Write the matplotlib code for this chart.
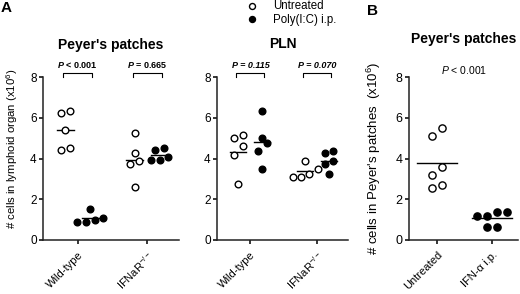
# Dot plots of cell counts in lymphoid organs (panels A and B)
import numpy as np
import matplotlib
matplotlib.use("Agg")
from matplotlib import pyplot as plt
from matplotlib.lines import Line2D

plt.rcParams['font.family'] = ['Liberation Sans', 'DejaVu Sans']
plt.rcParams['mathtext.fontset'] = 'custom'
plt.rcParams['mathtext.rm'] = 'Liberation Sans'
plt.rcParams['mathtext.it'] = 'Liberation Sans:italic'
plt.rcParams['mathtext.bf'] = 'Liberation Sans:bold'
plt.rcParams['mathtext.bfit'] = 'Liberation Sans:italic:bold'

# data
genotypes = ['Wild-type', 'IFNaR$^{-/-}$']
pp_untreated = [[6.25, 6.35, 5.4, 4.4, 4.5], [5.25, 4.25, 3.9, 3.75, 2.6]]
pp_polyic = [[1.0, 0.88, 1.5, 1.1, 0.88], [4.5, 4.4, 4.05, 3.95, 3.95]]
pp_pvals = ['< 0.001', '= 0.665']
pln_untreated = [[5.15, 5.0, 4.6, 4.15, 2.75], [3.9, 3.5, 3.25, 3.1, 3.1]]
pln_polyic = [[6.35, 5.0, 4.75, 4.35, 3.5], [4.25, 4.35, 3.9, 3.75, 3.25]]
pln_pvals = ['= 0.115', '= 0.070']

b_groups = ['Untreated', 'IFN-α i.p.']
b_untreated = [5.5, 5.1, 3.6, 3.2, 2.7, 2.55]
b_ifn = [1.35, 1.2, 1.2, 1.35, 0.65, 0.65]
b_pval = '< 0.001'

W, H = 520, 294
fig = plt.figure(figsize=(W / 100, H / 100), dpi=100)


def px_axes(x0, x1, ytop, ybot):
    return fig.add_axes([x0 / W, 1 - ybot / H, (x1 - x0) / W, (ybot - ytop) / H])


def style(ax, labels, fs):
    ax.set_ylim(0, 8)
    ax.set_xlim(0.5, 2.46)
    ax.set_yticks([0, 2, 4, 6, 8])
    ax.set_xticks([1, 2])
    ax.set_xticklabels(labels, rotation=45, ha='right', va='top',
                       rotation_mode='anchor', fontsize=8)
    for s in ['top', 'right']:
        ax.spines[s].set_visible(False)
    for s in ['left', 'bottom']:
        ax.spines[s].set_linewidth(1.1)
        ax.spines[s].set_color('#222222')
    ax.tick_params(axis='y', direction='out', length=3, width=1.1, labelsize=fs, pad=1.5)
    ax.tick_params(axis='x', direction='out', length=3, width=1.1, pad=4)


def swarm(ax, x0, vals, step, thresh, filled, ms, half):
    vals = np.sort(vals)
    rows = []
    for v in vals:
        if rows and v - rows[-1][0] < thresh:
            rows[-1].append(v)
        else:
            rows.append([v])
    xs, ys = [], []
    for r in rows:
        n = len(r)
        for i, v in enumerate(r):
            xs.append(x0 + (i - (n - 1) / 2) * step)
            ys.append(v)
    m = np.mean(vals)
    ax.plot([x0 - half, x0 + half], [m, m], '-', color='k', lw=1.0, zorder=2)
    ax.plot(xs, ys, 'o', ms=ms, mew=1.0, mec='k',
            mfc='k' if filled else 'white', zorder=3, clip_on=False)


def bracket(ax, xa, xb, text, style='normal'):
    ax.plot([xa, xa, xb, xb], [8.0, 8.21, 8.21, 8.0], color='k', lw=0.8, clip_on=False)
    ax.text((xa + xb) / 2, 8.43, text, ha='center', va='baseline',
            fontsize=6.5, fontweight='bold', fontstyle=style)


dx = 0.18
panels = [(px_axes(43, 179, 77, 240), pp_untreated, pp_polyic, pp_pvals, False),
          (px_axes(217, 348, 77, 240), pln_untreated, pln_polyic, pln_pvals, True)]
for ax, unt, pic, pv, itpval in panels:
    style(ax, genotypes, 8.5)
    for g in range(2):
        swarm(ax, g + 1 - dx, unt[g], 0.125, 0.45, False, 4.8, 0.12)
        swarm(ax, g + 1 + dx, pic[g], 0.125, 0.45, True, 4.8, 0.12)
        if itpval:
            bracket(ax, g + 1 - dx - 0.03, g + 1 + dx + 0.03, 'P ' + pv[g], 'italic')
        else:
            bracket(ax, g + 1 - dx - 0.03, g + 1 + dx + 0.03,
                    r'$\mathbfit{P}$ ' + pv[g])

fig.text(111 / W, 1 - 45 / H, "Peyer's patches", ha='center', va='center',
         fontsize=10, fontweight='bold')
fig.text(283 / W, 1 - 44 / H, "PLN", ha='center', va='center',
         fontsize=10, fontweight='bold')
fig.text(12 / W, 1 - 148.5 / H, '# cells in lymphoid organ (x10$^{6}$)',
         rotation=90, ha='center', va='center', fontsize=8.2)

# panel B
axb = px_axes(409, 518, 77, 240)
style(axb, b_groups, 9)
axb.set_xlim(0.49, 2.47)
swarm(axb, 1, b_untreated, 0.18, 0.45, False, 5.2, 0.36)
swarm(axb, 2, b_ifn, 0.18, 0.45, True, 5.2, 0.36)
axb.text(1.5, 8.15, r'$\mathit{P}$ ' + b_pval, ha='center', va='baseline', fontsize=7.5)
fig.text(464 / W, 1 - 38.5 / H, "Peyer's patches", ha='center', va='center',
         fontsize=10, fontweight='bold')
fig.text(374 / W, 1 - 158 / H, "# cells in Peyer's patches  (x10$^{6}$)",
         rotation=90, ha='center', va='center', fontsize=9.5)

# legend
for yy, fc, txt in [(5.5, 'white', 'Untreated'), (19, 'k', 'Poly(I:C) i.p.')]:
    fig.add_artist(Line2D([252 / W], [1 - yy / H], marker='o', ms=4.3, mew=1.0,
                          mec='k', mfc=fc, transform=fig.transFigure))
    fig.text(273 / W, 1 - (yy + 0.5) / H, txt, ha='left', va='center', fontsize=8.3)

# panel letters
fig.text(0.5 / W, 1 - 1 / H, 'A', ha='left', va='top', fontsize=11, fontweight='bold')
fig.text(367 / W, 1 - 4 / H, 'B', ha='left', va='top', fontsize=11, fontweight='bold')

fig.savefig('out.png', dpi=100)
